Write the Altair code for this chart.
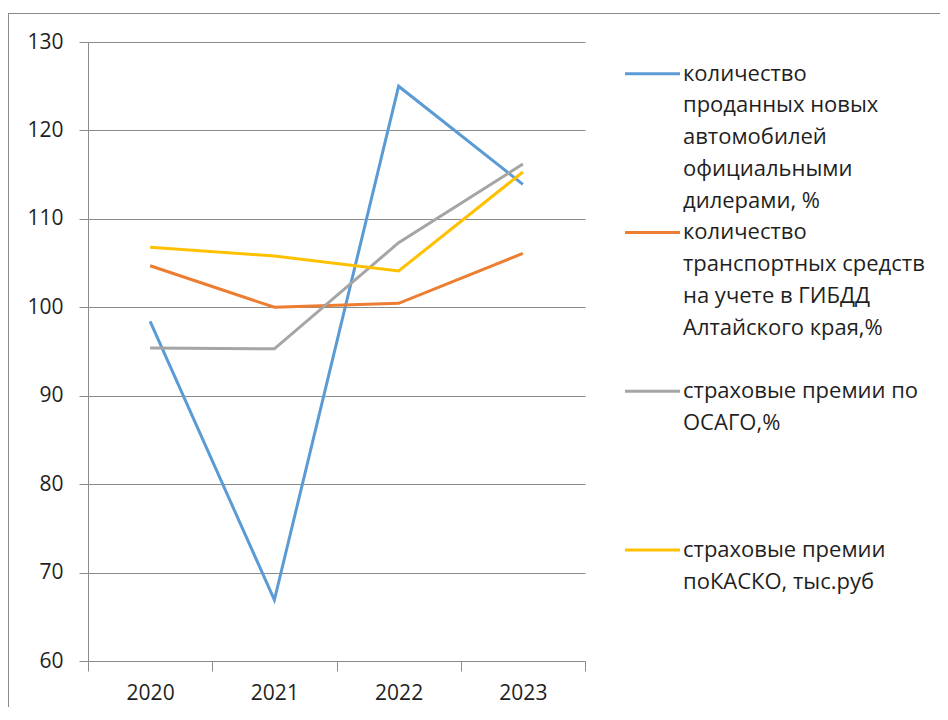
import altair as alt
import pandas as pd

# ---- data ----
years = ["2020", "2021", "2022", "2023"]
series_names = [
    "количество проданных новых автомобилей официальными дилерами, %",
    "количество транспортных средств на учете в ГИБДД Алтайского края,%",
    "страховые премии по ОСАГО,%",
    "страховые премии поКАСКО, тыс.руб",
]
sales_new_cars = [98.4, 66.9, 125.0, 113.9]
vehicles_registered = [104.7, 100.0, 100.45, 106.1]
osago_premiums = [95.4, 95.3, 107.3, 116.2]
kasko_premiums = [106.8, 105.8, 104.1, 115.3]
series_colors = ["#5B9BD5", "#ED7D31", "#A5A5A5", "#FFC000"]
y_ticks = [60, 70, 80, 90, 100, 110, 120, 130]

legend_lines = [
    ["количество", "проданных новых", "автомобилей", "официальными", "дилерами, %"],
    ["количество", "транспортных средств", "на учете в ГИБДД", "Алтайского края,%"],
    ["страховые премии по", "ОСАГО,%"],
    ["страховые премии", "поКАСКО, тыс.руб"],
]
rows_per_entry = 5

FONT = "Open Sans"
TEXT_COLOR = "#1f1f1f"
GRID_COLOR = "#8a8a8a"

# ---- tables ----
all_values = [sales_new_cars, vehicles_registered, osago_premiums, kasko_premiums]
records = []
for name, vals in zip(series_names, all_values):
    for yr, v in zip(years, vals):
        records.append({"year": yr, "value": v, "series": name})
df = pd.DataFrame(records)

leg_text = []
leg_sym = []
for k, (name, lines) in enumerate(zip(series_names, legend_lines)):
    leg_sym.append({"series": name, "row": k * rows_per_entry})
    for i, t in enumerate(lines):
        leg_text.append({"series": name, "row": k * rows_per_entry + i, "text": t})
leg_text_df = pd.DataFrame(leg_text)
leg_sym_df = pd.DataFrame(leg_sym)

color_scale = alt.Scale(domain=series_names, range=series_colors)
row_scale = alt.Scale(domain=[-1, 18.5], reverse=True, zero=False, nice=False)

lines = alt.Chart(df).mark_line(strokeWidth=3, strokeJoin="miter").encode(
    x=alt.X(
        "year:N",
        bandPosition=0.5,
        scale=alt.Scale(type="band", paddingInner=0, paddingOuter=0),
        axis=alt.Axis(
            title=None, labelAngle=0, grid=False,
            tickBand="extent", tickSize=10, tickColor=GRID_COLOR,
            domainColor=GRID_COLOR, labelPadding=11,
            labelFont=FONT, labelFontSize=21, labelColor=TEXT_COLOR,
        ),
    ),
    y=alt.Y(
        "value:Q",
        scale=alt.Scale(domain=[60, 130], nice=False, zero=False),
        axis=alt.Axis(
            title=None, values=y_ticks, grid=True, gridColor=GRID_COLOR,
            tickSize=9, tickColor=GRID_COLOR, domainColor=GRID_COLOR,
            labelPadding=16, labelFont=FONT, labelFontSize=21,
            labelColor=TEXT_COLOR,
        ),
    ),
    color=alt.Color("series:N", scale=color_scale, legend=None),
)

legend_symbols = alt.Chart(leg_sym_df).mark_rule(strokeWidth=3).encode(
    x=alt.value(537),
    x2=alt.value(592),
    y=alt.Y("row:Q", scale=row_scale, axis=None),
    color=alt.Color("series:N", scale=color_scale, legend=None),
)

legend_labels = alt.Chart(leg_text_df).mark_text(
    align="left", baseline="middle", font=FONT, fontSize=22, color=TEXT_COLOR
).encode(
    x=alt.value(595),
    y=alt.Y("row:Q", scale=row_scale, axis=None),
    text="text:N",
)

frame_left = alt.Chart(pd.DataFrame({"k": [0]})).mark_rule(
    color=GRID_COLOR, strokeWidth=1
).encode(x=alt.value(-79.5), y=alt.value(-29), y2=alt.value(720))
frame_top = alt.Chart(pd.DataFrame({"k": [0]})).mark_rule(
    color=GRID_COLOR, strokeWidth=1
).encode(x=alt.value(-80), x2=alt.value(900), y=alt.value(-28.5))

chart = alt.layer(
    frame_left, frame_top, lines, legend_symbols, legend_labels
).resolve_scale(y="independent").properties(
    width=497,
    height=619,
    autosize=alt.AutoSizeParams(type="none"),
    padding={"left": 80, "top": 34, "right": 355, "bottom": 46},
    background="white",
).configure_view(stroke=None)

chart.save("out.html", embed_options={"renderer": "svg", "actions": False})
